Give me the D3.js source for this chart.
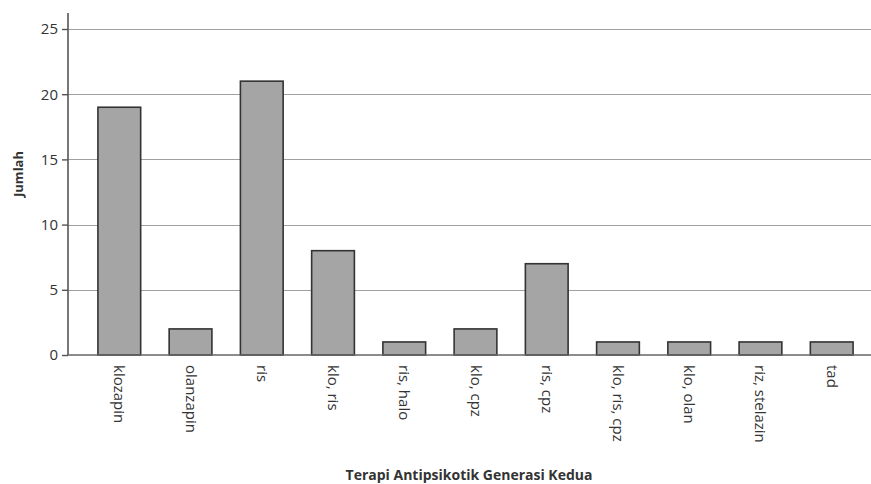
<!DOCTYPE html>
<meta charset="utf-8">
<script src="https://cdn.jsdelivr.net/npm/d3@7"></script>
<style>
  body { margin: 0; background: #fff; }
  text { font-family: "Open Sans", "Noto Sans", sans-serif; fill: #333; }
</style>
<body></body>
<script>

    var categories = ["klozapin", "olanzapin", "ris", "klo, ris", "ris, halo", "klo, cpz",
                      "ris, cpz", "klo, ris, cpz", "klo, olan", "riz, stelazin", "tad"];
    var values = [19, 2, 21, 8, 1, 2, 7, 1, 1, 1, 1];
    var yTicks = [0, 5, 10, 15, 20, 25];

    var width = 871, height = 484;
    var plotLeft = 68, plotTop = 13, plotBottom = 355;

    var svg = d3.select("body").append("svg")
        .attr("width", width)
        .attr("height", height);

    var x = d3.scaleBand()
        .domain(categories)
        .range([plotLeft, 883])
        .paddingInner(0.4)
        .paddingOuter(0.42);

    var y = d3.scaleLinear()
        .domain([0, 25])
        .range([plotBottom, 29]);

    // gridlines
    svg.append("g")
        .selectAll("line")
        .data(yTicks.slice(1))
        .enter().append("line")
        .attr("x1", plotLeft)
        .attr("x2", width)
        .attr("y1", function(d) { return Math.round(y(d)) + 0.5; })
        .attr("y2", function(d) { return Math.round(y(d)) + 0.5; })
        .attr("stroke", "#a0a0a0")
        .attr("stroke-width", 1.2);

    // bars
    svg.append("g")
        .selectAll("rect")
        .data(values)
        .enter().append("rect")
        .attr("x", function(d, i) { return x(categories[i]); })
        .attr("y", function(d) { return y(d); })
        .attr("width", x.bandwidth())
        .attr("height", function(d) { return plotBottom - y(d); })
        .attr("fill", "#a6a5a6")
        .attr("stroke", "#333")
        .attr("stroke-width", 1.6);

    // y axis
    var yAxis = svg.append("g")
        .attr("transform", "translate(" + plotLeft + ",0)")
        .call(d3.axisLeft(y).tickValues(yTicks).tickSize(6).tickPadding(4));
    yAxis.select(".domain").remove();
    yAxis.selectAll(".tick line").attr("stroke", "#555").attr("stroke-width", 1.4);
    yAxis.selectAll("text")
        .style("font-size", "15px")
        .attr("fill", "#333");

    svg.append("line")
        .attr("x1", plotLeft).attr("x2", plotLeft)
        .attr("y1", plotTop).attr("y2", plotBottom)
        .attr("stroke", "#555")
        .attr("stroke-width", 1.6);

    // x axis line
    svg.append("line")
        .attr("x1", plotLeft).attr("x2", width)
        .attr("y1", plotBottom).attr("y2", plotBottom)
        .attr("stroke", "#666")
        .attr("stroke-width", 1.6);

    // x labels
    svg.append("g")
        .selectAll("text")
        .data(categories)
        .enter().append("text")
        .attr("transform", function(d) {
          return "translate(" + (x(d) + x.bandwidth() / 2 - 5) + "," + (plotBottom + 10) + ") rotate(90)";
        })
        .style("font-size", "15px")
        .text(function(d) { return d; });

    // axis titles
    svg.append("text")
        .attr("transform", "translate(23,174) rotate(-90)")
        .attr("text-anchor", "middle")
        .style("font-size", "13px")
        .style("font-weight", "bold")
        .text("Jumlah");

    svg.append("text")
        .attr("x", 469)
        .attr("y", 480)
        .attr("text-anchor", "middle")
        .style("font-size", "14px")
        .style("font-weight", "bold")
        .text("Terapi Antipsikotik Generasi Kedua");
</script>
